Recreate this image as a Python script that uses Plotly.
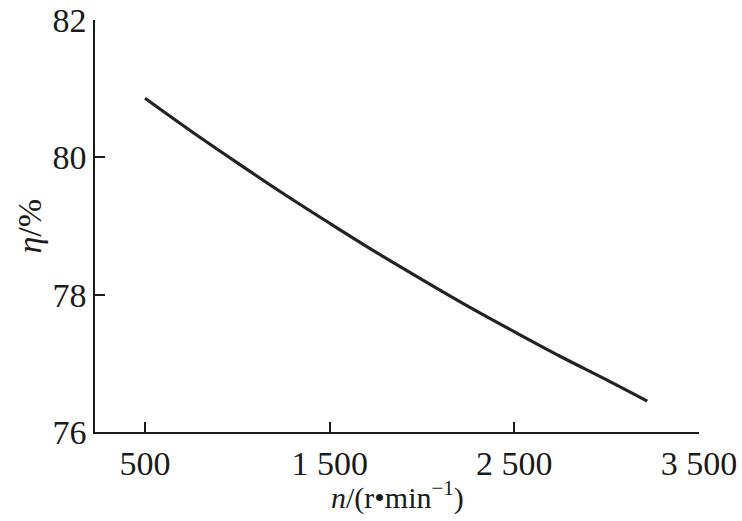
import plotly.graph_objects as go

speed = [500, 750, 1000, 1250, 1500, 1750, 2000, 2250, 2500, 2750, 3000, 3220]
efficiency = [80.86, 80.38, 79.92, 79.47, 79.04, 78.62, 78.22, 77.83, 77.46, 77.10, 76.76, 76.45]

x_tickvals = [500, 1500, 2500, 3500]
x_ticktext = ["500", "1 500", "2 500", "3 500"]
y_tickvals = [76, 78, 80, 82]
y_ticktext = ["76", "78", "80", "82"]

FONT = "Liberation Serif"
INK = "#1a1a1a"

fig = go.Figure()
fig.add_trace(go.Scatter(x=speed, y=efficiency, mode="lines",
                         line=dict(color="#222222", width=3.2, shape="spline"),
                         showlegend=False))

fig.update_layout(
    width=742, height=521,
    margin=dict(l=95, r=43, t=20, b=89, autoexpand=False),
    paper_bgcolor="white", plot_bgcolor="white",
    font=dict(family=FONT, size=34, color=INK),
    xaxis=dict(range=[229, 3500], tickvals=x_tickvals, ticktext=x_ticktext,
               showgrid=False, zeroline=False, showline=True, linecolor=INK, linewidth=1.6,
               ticks="inside", ticklen=10, tickwidth=1.6, tickcolor=INK,
               ticklabelstandoff=0, automargin=False,
               tickfont=dict(family=FONT, size=34, color=INK)),
    yaxis=dict(range=[76, 82], tickvals=y_tickvals, ticktext=y_ticktext,
               showgrid=False, zeroline=False, showline=True, linecolor=INK, linewidth=1.6,
               ticks="inside", ticklen=10, tickwidth=1.6, tickcolor=INK,
               ticklabelstandoff=0, automargin=False,
               tickfont=dict(family=FONT, size=34, color=INK)),
    annotations=[
        dict(text="<i>n</i>/(r•min<sup>−1</sup>)", xref="paper", yref="paper",
             x=0.5, y=-0.155, xanchor="center", yanchor="middle", showarrow=False,
             font=dict(family=FONT, size=30, color=INK)),
        dict(text="<i>η</i>/%", xref="paper", yref="paper",
             x=-0.11, y=0.5, xanchor="center", yanchor="middle", showarrow=False,
             textangle=-90, font=dict(family=FONT, size=34, color=INK)),
    ],
)

fig.write_html("out.html")
